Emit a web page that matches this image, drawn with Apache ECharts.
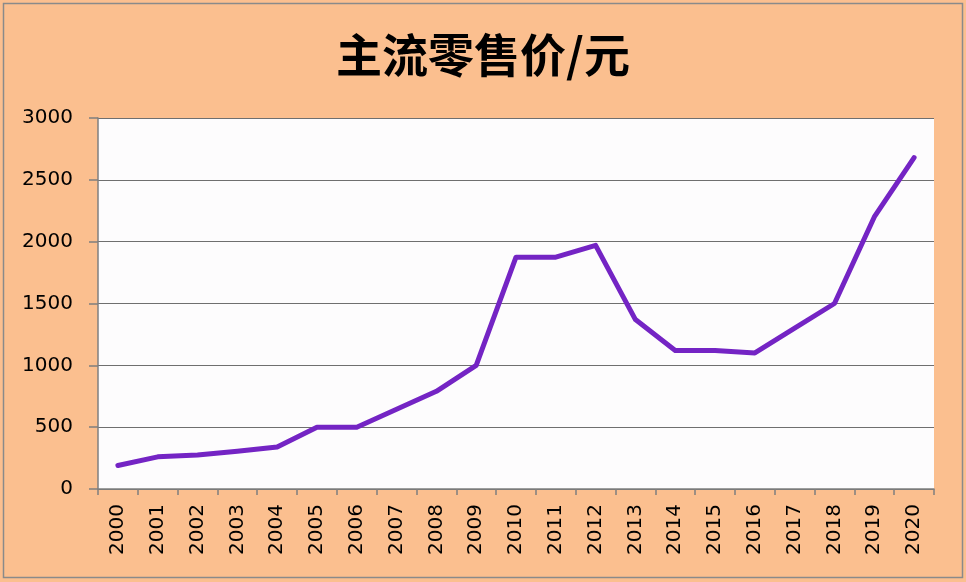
<!DOCTYPE html>
<html>
<head>
<meta charset="utf-8">
<script src="https://cdn.jsdelivr.net/npm/echarts@6/dist/echarts.min.js"></script>
<style>
html, body { margin: 0; padding: 0; }
#chart { width: 966px; height: 582px; }
</style>
</head>
<body>
<div id="chart"></div>
<script>
const years = ['2000', '2001', '2002', '2003', '2004', '2005', '2006', '2007', '2008', '2009', '2010',
  '2011', '2012', '2013', '2014', '2015', '2016', '2017', '2018', '2019', '2020']
const prices = [190, 260, 275, 305, 340, 500, 500, 645, 790, 1000, 1875,
  1875, 1970, 1370, 1120, 1120, 1100, 1300, 1500, 2200, 2680]
const yTicks = [0, 500, 1000, 1500, 2000, 2500, 3000]

const chart = echarts.init(document.getElementById('chart'))

const option = {
  backgroundColor: '#fbbf8f',
  animation: false,
  title: {
    text: '主流零售价/元',
    left: 'center',
    top: 27,
    textStyle: {
      fontFamily: 'Noto Sans CJK SC',
      fontSize: 46,
      fontWeight: 'bold',
      color: '#000'
    }
  },
  graphic: [
    {
      type: 'rect',
      shape: { x: 3.5, y: 3.5, width: 959, height: 574 },
      style: { fill: 'none', stroke: '#8a8a8a', lineWidth: 1.5 },
      silent: true
    }
  ],
  grid: {
    left: 98,
    right: 32,
    top: 118,
    bottom: 93,
    backgroundColor: '#fdfcfd',
    show: true,
    borderWidth: 0
  },
  xAxis: {
    type: 'category',
    data: years,
    boundaryGap: true,
    axisLine: { lineStyle: { color: '#7f7f7f', width: 1.5 } },
    axisTick: { show: true, length: 6, lineStyle: { color: '#7f7f7f', width: 1.5 } },
    axisLabel: {
      rotate: 90,
      color: '#000',
      fontFamily: 'DejaVu Sans',
      fontSize: 20,
      margin: 15
    }
  },
  yAxis: {
    type: 'value',
    min: yTicks[0],
    max: yTicks[yTicks.length - 1],
    interval: 500,
    axisLine: { show: true, lineStyle: { color: '#7f7f7f', width: 1.5 } },
    axisTick: { show: true, length: 9, lineStyle: { color: '#7f7f7f', width: 1.5 } },
    splitLine: { lineStyle: { color: '#6f6f6f', width: 1.2 } },
    axisLabel: {
      color: '#000',
      fontFamily: 'DejaVu Sans',
      fontSize: 20,
      margin: 25,
      formatter: v => String(v)
    }
  },
  series: [
    {
      type: 'line',
      data: prices,
      symbol: 'none',
      lineStyle: { color: '#7424c4', width: 5, join: 'round', cap: 'round' }
    }
  ]
}

chart.setOption(option)
</script>
</body>
</html>
